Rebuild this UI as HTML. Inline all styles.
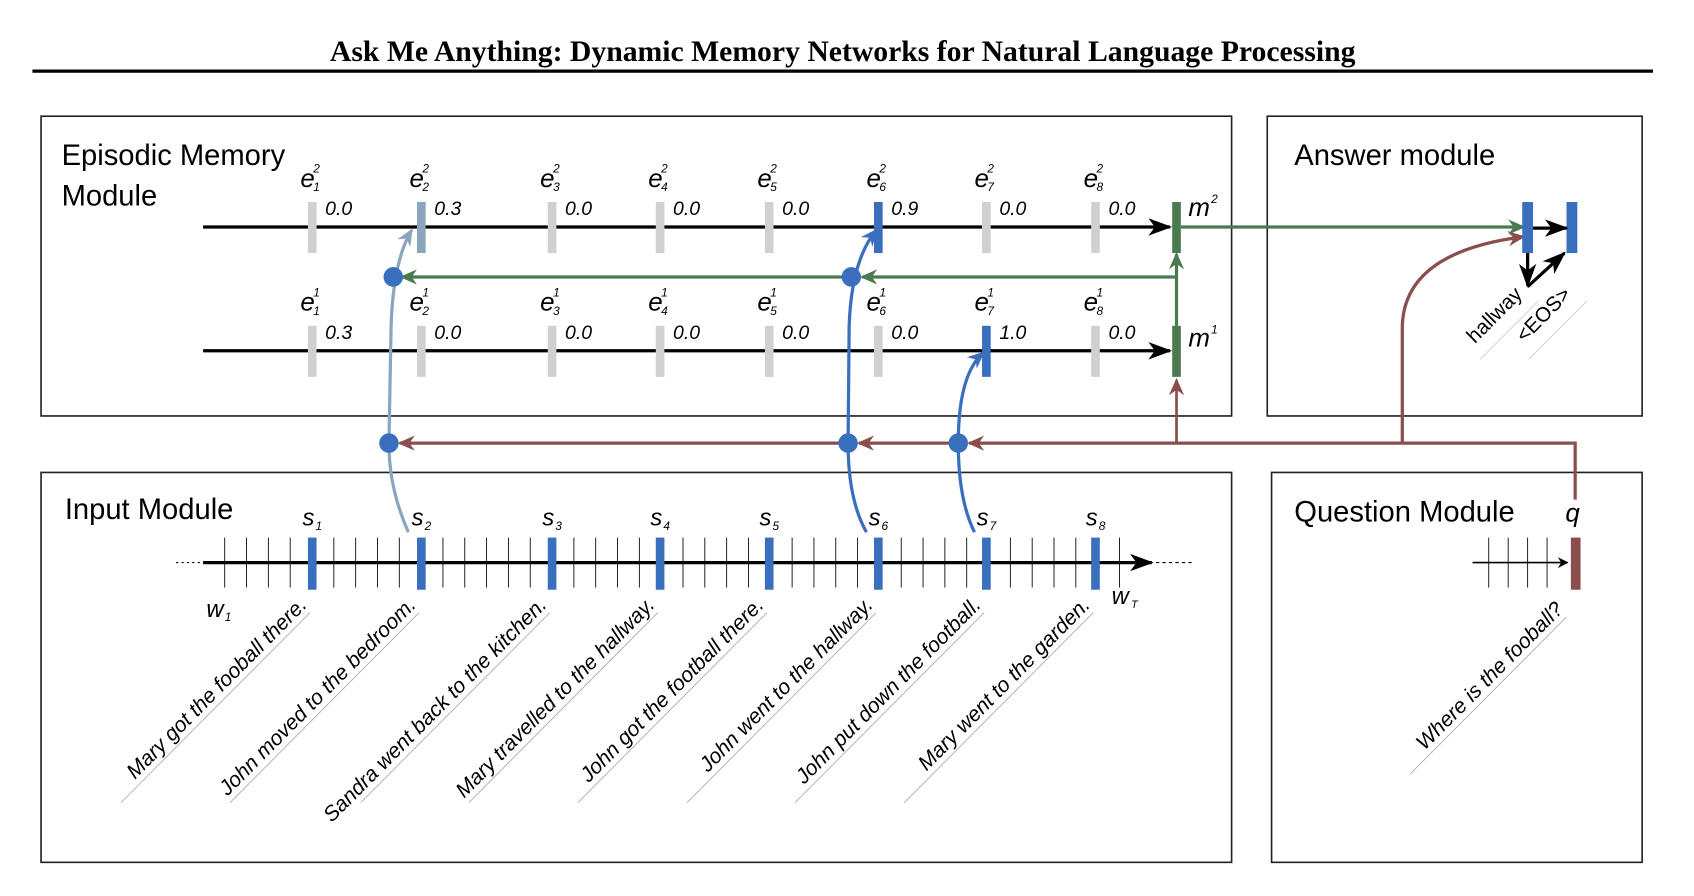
<!DOCTYPE html>
<html><head><meta charset="utf-8"><style>
html,body{margin:0;padding:0;background:#fff;}
svg{display:block;}
text{font-family:"Liberation Sans",sans-serif;}
.it{font-style:italic;}
</style></head><body>
<svg id="fig" width="1694" height="896" viewBox="0 0 1568 825" preserveAspectRatio="none" xmlns="http://www.w3.org/2000/svg">
<defs>
<marker id="ak" markerWidth="10" markerHeight="10" refX="9" refY="5" orient="auto" markerUnits="userSpaceOnUse"><path d="M0,0 L10,5 L0,10 L3,5z" fill="#000"/></marker>
<marker id="ag" markerWidth="16" markerHeight="14" refX="14" refY="7" orient="auto" markerUnits="userSpaceOnUse"><path d="M0,0 L16,7 L0,14 L5,7z" fill="#4a7a4f"/></marker>
<marker id="ar" markerWidth="16" markerHeight="14" refX="14" refY="7" orient="auto" markerUnits="userSpaceOnUse"><path d="M0,0 L16,7 L0,14 L5,7z" fill="#8a4f4c"/></marker>
<marker id="ab" markerWidth="16" markerHeight="14" refX="14" refY="7" orient="auto" markerUnits="userSpaceOnUse"><path d="M0,0 L16,7 L0,14 L5,7z" fill="#3a6fbd"/></marker>
<marker id="as" markerWidth="16" markerHeight="14" refX="14" refY="7" orient="auto" markerUnits="userSpaceOnUse"><path d="M0,0 L16,7 L0,14 L5,7z" fill="#8aa6bf"/></marker>
<marker id="aK" markerWidth="22" markerHeight="16" refX="20" refY="8" orient="auto" markerUnits="userSpaceOnUse"><path d="M0,0 L22,8 L0,16 L6,8z" fill="#000"/></marker>
</defs>
<text x="780" y="56" text-anchor="middle" font-weight="bold" font-size="27.5" style="font-family:'Liberation Serif',serif">Ask Me Anything: Dynamic Memory Networks for Natural Language Processing</text>
<rect x="30" y="64" width="1500" height="3" fill="#000"/>
<rect x="38" y="107" width="1102" height="276" fill="none" stroke="#222" stroke-width="1.5"/>
<rect x="1173" y="107" width="347" height="276" fill="none" stroke="#222" stroke-width="1.5"/>
<rect x="38" y="435" width="1102" height="359" fill="none" stroke="#222" stroke-width="1.5"/>
<rect x="1177" y="435" width="343" height="359" fill="none" stroke="#222" stroke-width="1.5"/>
<text x="57" y="152" font-size="27">Episodic Memory</text>
<text x="57" y="189" font-size="27">Module</text>
<text x="1198" y="152" font-size="27">Answer module</text>
<text x="60" y="478" font-size="27">Input Module</text>
<text x="1198" y="480" font-size="27">Question Module</text>
<g id="g"></g>
</svg>
<script>
const sentences=["Mary got the fooball there.","John moved to the bedroom.","Sandra went back to the kitchen.","Mary travelled to the hallway.","John got the football there.","John went to the hallway.","John put down the football.","Mary went to the garden."];
const gate1=[0.3,0.0,0.0,0.0,0.0,0.0,1.0,0.0];
const gate2=[0.0,0.3,0.0,0.0,0.0,0.9,0.0,0.0];
const question="Where is the fooball?";
const answers=["hallway","<EOS>"];
const barX=[289,390,511,611,712,813,913,1014];
const NS="http://www.w3.org/2000/svg";
const g=document.getElementById('g');
function el(t,a,p){const e=document.createElementNS(NS,t);for(const k in a)e.setAttribute(k,a[k]);(p||g).appendChild(e);return e;}
function gateColor(v,pass){if(v>=0.5)return '#3a6fbd';if(v>0&&pass==2)return '#8aa6bf';return '#d0d0d0';}
function tx(x,y,s,size,cls,extra){const e=el('text',Object.assign({x:x,y:y,'font-size':size},extra||{}));if(cls)e.setAttribute('class',cls);e.textContent=s;return e;}
[[209,gate2,2,186],[323,gate1,1,300]].forEach(([y,vals,pass,top])=>{
 let l=el('line',{x1:188,y1:y,x2:1083,y2:y,stroke:'#000','stroke-width':3,'marker-end':'url(#aK)'});
 
 
 vals.forEach((v,i)=>{
  const x=barX[i];
  let r=el('rect',{x:x-4,y:top,width:8,height:47,fill:gateColor(v,pass)});
  
  
  let t=tx(x+12,top+12,v.toFixed(1),18,'it');
  
  
  let lb=tx(x-11,top-14,'e',24,'it');
  
  
  tx(x+1,top-27,String(pass),11,'it');
  tx(x+1,top-10,String(i+1),11,'it');
 });
 let m=el('rect',{x:1085,y:top,width:8,height:47,fill:'#4a7a4f'});
 
 
 let mt=tx(1100,top+(pass==2?13:19),'m',24,'it');
 
 
 tx(1121,top+(pass==2?1:7),String(pass),11,'it');
});
function path(d,stroke,w,marker,name){const p=el('path',{d:d,fill:'none',stroke:stroke,'stroke-width':w});if(marker)p.setAttribute('marker-end','url(#'+marker+')');return p;}
path('M1089,300 L1089,234','#4a7a4f',3,'ag','m1-to-m2-arrow');
path('M1089,255 L798,255','#4a7a4f',3,'ag','memory-feedback-arrow-a');
path('M788,255 L372,255','#4a7a4f',3,'ag','memory-feedback-arrow-b');
path('M1093,209 L1410,209','#4a7a4f',3,'ag','m2-to-answer-arrow');
path('M1458,460 L1458,408 L897,408','#8a4f4c',3,'ar','question-arrow-a');
path('M887,408 L795,408','#8a4f4c',3,'ar','question-arrow-b');
path('M785,408 L370,408','#8a4f4c',3,'ar','question-arrow-c');
path('M1089,408 L1089,350','#8a4f4c',2.5,'ar','question-to-m1-arrow');
path('M1298,408 L1298,300 Q1300,232 1410,218','#8a4f4c',3,'ar','question-to-answer-arrow');
path('M378,490 Q360,450 360,408 L362,300 Q364,240 381,212','#8aa6bf',3,'as','s2-attention-curve');
path('M802,490 Q785,460 785,408 L786,300 Q788,240 811,212','#3a6fbd',3,'ab','s6-attention-curve');
path('M902,490 Q887,460 887,408 Q887,345 910,325','#3a6fbd',3,'ab','s7-attention-curve');
[[364,255],[788,255],[360,408],[785,408],[887,408]].forEach((p,i)=>{
 const c=el('circle',{cx:p[0],cy:p[1],r:9,fill:'#3a6fbd'});
 
 
});
let il=el('line',{x1:188,y1:518,x2:1066,y2:518,stroke:'#000','stroke-width':3,'marker-end':'url(#aK)'});


el('line',{x1:163,y1:518,x2:186,y2:518,stroke:'#000','stroke-width':1,'stroke-dasharray':'2,3'});
el('line',{x1:1070,y1:518,x2:1105,y2:518,stroke:'#000','stroke-width':1,'stroke-dasharray':'3,3'});
for(let x=208;x<=1052;x+=20.2){el('line',{x1:x,y1:495,x2:x,y2:541,stroke:'#000','stroke-width':0.8});}
sentences.forEach((s,i)=>{
 const x=barX[i];
 let r=el('rect',{x:x-4,y:495,width:8,height:48,fill:'#3a6fbd'});
 
 
 let l=tx(x-9,484,'s',22,'it');
 
 
 tx(x+3,488,String(i+1),11,'it');
 let t=tx(0,0,s,19.5,'it',{'text-anchor':'end',transform:'translate('+(x-4)+',558) rotate(-45)'});
 
 
 el('line',{x1:x-2,y1:564,x2:x-2-175,y2:564+175,stroke:'#aaa','stroke-width':0.8});
});
tx(191,568,'w',22,'it');tx(208,572,'1',11,'it');
tx(1029,556,'w',22,'it');tx(1047,560,'T',10,'it');
let ql=el('line',{x1:1363,y1:518,x2:1451,y2:518,stroke:'#000','stroke-width':1.5,'marker-end':'url(#ak)'});


[1378,1396,1414,1432].forEach(x=>el('line',{x1:x,y1:495,x2:x,y2:541,stroke:'#000','stroke-width':0.8}));
let qb=el('rect',{x:1454,y:495,width:9,height:48,fill:'#8a4f4c'});


tx(1449,480,'q',24,'it');
let qt=tx(0,0,question,19.5,'it',{'text-anchor':'end',transform:'translate(1448,562) rotate(-45)'});


el('line',{x1:1450,y1:568,x2:1305,y2:713,stroke:'#aaa','stroke-width':0.8});
[1414,1455].forEach((x,i)=>{
 let r=el('rect',{x:x-5,y:186,width:10,height:47,fill:'#3a6fbd'});
 
 
});
path('M1419,210 L1450,210','#000',3,'aK','answer-step-arrow');
path('M1414,233 L1414,263','#000',3,'aK','answer-output-arrow');
path('M1414,264 L1448,233','#000',3,'aK','answer-feedback-arrow');
answers.forEach((a,i)=>{
 const x=[1410,1455][i];
 let t=tx(0,0,a,19,'',{'text-anchor':'end',transform:'translate('+x+',272) rotate(-45)'});
 
 
 el('line',{x1:x+14,y1:277,x2:x-40,y2:331,stroke:'#ccc','stroke-width':0.8});
});
</script>
</body></html>
